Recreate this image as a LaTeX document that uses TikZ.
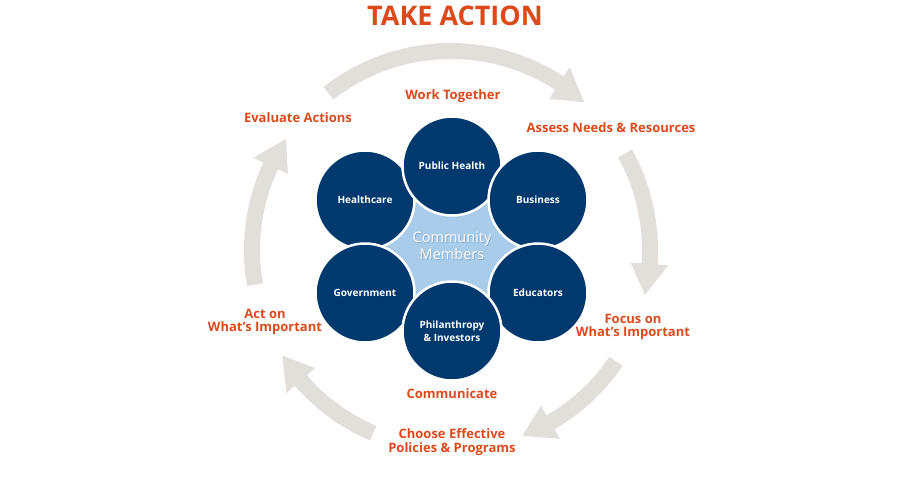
\documentclass[tikz,border=0pt]{standalone}
\usepackage{fontspec}
\setmainfont{Open Sans}
\definecolor{act}{RGB}{220,74,28}
\definecolor{navy}{RGB}{0,57,110}
\definecolor{lblue}{RGB}{168,204,234}
\definecolor{lshadow}{RGB}{130,170,210}
\definecolor{arr}{RGB}{226,223,219}
\newcommand\cyclearrow[2]{%
  \fill[arr] ({#1}:207pt) arc[start angle={#1}, end angle={#2+9}, radius=207pt]
    -- ({#2+9}:218pt) -- ({#2}:199pt) -- ({#2+9}:180pt) -- ({#2+9}:191pt)
    arc[start angle={#2+9}, end angle={#1}, radius=191pt] -- cycle;}
\begin{document}
\begin{tikzpicture}[x=1pt,y=1pt,
  lab/.style={text=act,font=\bfseries\fontsize{13}{13.5}\selectfont,align=center,inner sep=0pt},
  circ/.style={circle,fill=navy,draw=white,line width=2.5pt,minimum size=99pt,inner sep=0pt,
    text=white,font=\bfseries\fontsize{10}{13}\selectfont,align=center},
  cmtext/.style={font=\fontsize{14.5}{17}\selectfont,align=center,inner sep=0pt}]
\useasboundingbox (0,0) rectangle (900,-500);
% cycle arrows
\begin{scope}[shift={(451,-250)}]
  \cyclearrow{128}{48}
  \cyclearrow{29}{-13}
  \cyclearrow{-34}{-69}
  \cyclearrow{-113}{-148}
  \cyclearrow{190}{146}
\end{scope}
% title and stage labels
\node[text=act,font=\bfseries\fontsize{27}{30}\selectfont,inner sep=0pt] (title) at (455,-16) {TAKE ACTION};
\node[lab] (work) at (453,-96) {Work Together};
\node[lab] (eval) at (298,-118) {Evaluate Actions};
\node[lab] (assess) at (611,-128) {Assess Needs \& Resources};
\node[lab] (focus) at (633,-327) {Focus on\\What’s Important};
\node[lab] (acton) at (265,-322) {Act on\\What’s Important};
\node[lab] (comm) at (452,-394) {Communicate};
\node[lab] (choose) at (452,-442) {Choose Effective\\Policies \& Programs};
% centre
\coordinate (chc) at (365,-200);
\coordinate (cph) at (452,-166);
\coordinate (cbu) at (538,-200);
\coordinate (ced) at (538,-293);
\coordinate (cpi) at (452,-331);
\coordinate (cgo) at (365,-293);
\fill[lblue] (chc) -- (cph) -- (cbu) -- (ced) -- (cpi) -- (cgo) -- cycle;
\node[circ] (hc) at (chc) {Healthcare};
\node[circ] (go) at (cgo) {Government};
\node[circ] (ph) at (cph) {Public Health};
\node[circ] (bu) at (cbu) {Business};
\node[circ] (ed) at (ced) {Educators};
\node[circ] (pi) at (cpi) {Philanthropy\\\& Investors};
\node[cmtext,text=lshadow] (cmshadow) at (452.8,-246.8) {Community\\Members};
\node[cmtext,text=white] (cm) at (452,-246) {Community\\Members};
\end{tikzpicture}
\end{document}
